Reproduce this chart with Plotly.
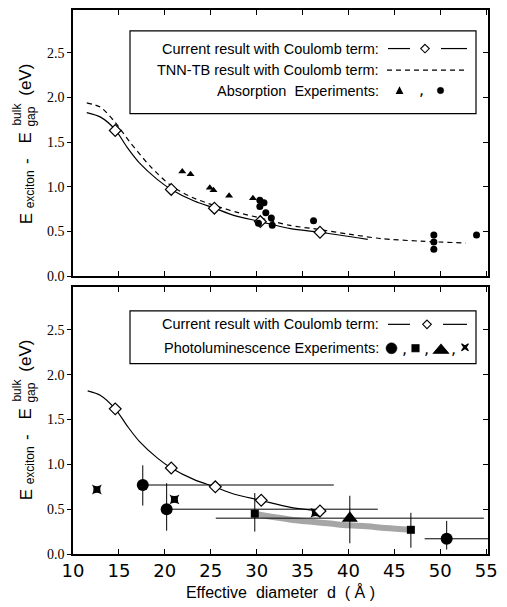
import plotly.graph_objects as go

# ---------------- data ----------------
# top panel (absorption)
top_curve_d = [11.5, 13.0, 14.6, 15.9, 17.2, 19.2, 20.7, 23.2, 25.4, 27.5, 30.4, 33.7, 36.9, 42.1]
top_curve_e = [1.83, 1.78, 1.64, 1.44, 1.27, 1.08, 0.97, 0.84, 0.76, 0.68, 0.61, 0.53, 0.49, 0.41]
tnn_curve_d = [11.5, 13.0, 14.6, 16.2, 18.5, 20.7, 23.0, 25.4, 28.0, 30.4, 33.5, 36.9, 40.0, 43.5, 47.9, 52.8]
tnn_curve_e = [1.94, 1.89, 1.72, 1.50, 1.22, 1.01, 0.88, 0.79, 0.71, 0.65, 0.57, 0.52, 0.47, 0.42, 0.39, 0.37]
top_diam_d = [14.6, 20.7, 25.4, 30.4, 36.9]
top_diam_e = [1.63, 0.97, 0.76, 0.61, 0.49]
abs_tri_d = [21.9, 22.8, 24.9, 25.3, 27.0, 29.6]
abs_tri_e = [1.17, 1.14, 0.99, 0.96, 0.90, 0.87]
abs_circ_d = [30.35, 30.8, 30.35, 31.0, 31.6, 31.7, 30.2, 36.2, 49.3, 49.3, 49.3, 53.95]
abs_circ_e = [0.85, 0.82, 0.78, 0.71, 0.65, 0.57, 0.59, 0.62, 0.46, 0.38, 0.30, 0.46]

# bottom panel (photoluminescence)
bot_curve_d = [11.6, 13.0, 14.6, 15.9, 17.2, 19.2, 20.7, 23.2, 25.4, 27.5, 30.4, 33.7, 36.9]
bot_curve_e = [1.82, 1.77, 1.62, 1.43, 1.26, 1.07, 0.96, 0.83, 0.75, 0.67, 0.60, 0.52, 0.48]
bot_diam_d = [14.6, 20.7, 25.5, 30.5, 36.9]
bot_diam_e = [1.62, 0.96, 0.75, 0.60, 0.48]
band_d = [29.8, 32.0, 34.0, 36.0, 38.0, 40.0, 42.0, 44.0, 46.8]
band_e = [0.45, 0.41, 0.38, 0.36, 0.34, 0.32, 0.31, 0.29, 0.27]
pl_circ_d = [17.6, 20.2, 50.7]
pl_circ_e = [0.77, 0.50, 0.17]
pl_circ_ey_plus = [0.22, 0.29, 0.20]
pl_circ_ey_minus = [0.23, 0.24, 0.12]
pl_circ_ex_plus = [20.8, 23.0, 4.5]
pl_circ_ex_minus = [0.0, 0.0, 2.4]
pl_sq_d = [29.8, 46.8]
pl_sq_e = [0.45, 0.27]
pl_sq_ey_plus = [0.23, 0.19]
pl_sq_ey_minus = [0.20, 0.20]
pl_tri_d = [40.15]
pl_tri_e = [0.40]
pl_tri_ex = [14.6]
pl_tri_ey_plus = [0.25]
pl_tri_ey_minus = [0.28]
pl_star_d = [12.6, 21.05, 36.4]
pl_star_e = [0.72, 0.61, 0.46]

x_ticks = [10, 15, 20, 25, 30, 35, 40, 45, 50, 55]
x_ticktext = ["10", "15", "20", "25", "30", "35", "40", "45", "50", "55"]
y_ticks = [0.0, 0.5, 1.0, 1.5, 2.0, 2.5]
y_ticktext = ["0.0", "0.5", "1.0", "1.5", "2.0", "2.5"]

# ---------------- layout geometry (pixels) ----------------
W, H = 507, 607
L, R, T, B = 73, 19, 8, 53
PW = W - L - R
PH = H - T - B


def fx(px):
    return (px - L) / PW


def fy(py):
    return (H - B - py) / PH


XR = [10, 55.2]
YR = [0, 2.98]
SANS = "Liberation Sans, Arial, sans-serif"
SERIF = "Liberation Serif, Times New Roman, serif"
BLK = "black"

fig = go.Figure()

# ---------- top panel ----------
fig.add_trace(go.Scatter(x=tnn_curve_d, y=tnn_curve_e, mode="lines", xaxis="x2", yaxis="y2",
                         line=dict(color=BLK, width=1.2, dash="5px,4px", shape="spline", smoothing=0.8)))
fig.add_trace(go.Scatter(x=top_curve_d, y=top_curve_e, mode="lines", xaxis="x2", yaxis="y2",
                         line=dict(color=BLK, width=1.2, shape="spline", smoothing=0.8)))
fig.add_trace(go.Scatter(x=top_diam_d, y=top_diam_e, mode="markers", xaxis="x2", yaxis="y2",
                         marker=dict(symbol="diamond", size=9, color="white", line=dict(color=BLK, width=1.2))))
fig.add_trace(go.Scatter(x=abs_tri_d, y=abs_tri_e, mode="markers", xaxis="x2", yaxis="y2",
                         marker=dict(symbol="triangle-up", size=7, color=BLK)))
fig.add_trace(go.Scatter(x=abs_circ_d, y=abs_circ_e, mode="markers", xaxis="x2", yaxis="y2",
                         marker=dict(symbol="circle", size=7, color=BLK)))

# ---------- bottom panel ----------
fig.add_trace(go.Scatter(x=band_d, y=band_e, mode="lines", xaxis="x", yaxis="y",
                         line=dict(color="#a6a6a6", width=6, shape="spline")))
fig.add_trace(go.Scatter(x=bot_curve_d, y=bot_curve_e, mode="lines", xaxis="x", yaxis="y",
                         line=dict(color=BLK, width=1.2, shape="spline", smoothing=0.8)))
ebar = dict(type="data", symmetric=False, color=BLK, thickness=1, width=0)
fig.add_trace(go.Scatter(x=pl_circ_d, y=pl_circ_e, mode="markers", xaxis="x", yaxis="y",
                         marker=dict(symbol="circle", size=12, color=BLK),
                         error_y=dict(ebar, array=pl_circ_ey_plus, arrayminus=pl_circ_ey_minus),
                         error_x=dict(ebar, array=pl_circ_ex_plus, arrayminus=pl_circ_ex_minus)))
fig.add_trace(go.Scatter(x=pl_sq_d, y=pl_sq_e, mode="markers", xaxis="x", yaxis="y",
                         marker=dict(symbol="square", size=8, color=BLK),
                         error_y=dict(ebar, array=pl_sq_ey_plus, arrayminus=pl_sq_ey_minus)))
fig.add_trace(go.Scatter(x=pl_tri_d, y=pl_tri_e, mode="markers", xaxis="x", yaxis="y",
                         marker=dict(symbol="triangle-up", size=14, color=BLK),
                         error_y=dict(ebar, array=pl_tri_ey_plus, arrayminus=pl_tri_ey_minus),
                         error_x=dict(ebar, array=pl_tri_ex, arrayminus=pl_tri_ex)))
fig.add_trace(go.Scatter(x=pl_star_d, y=pl_star_e, mode="markers", xaxis="x", yaxis="y",
                         marker=dict(symbol="star-square", size=9, color=BLK)))
fig.add_trace(go.Scatter(x=bot_diam_d, y=bot_diam_e, mode="markers", xaxis="x", yaxis="y",
                         marker=dict(symbol="diamond", size=9, color="white", line=dict(color=BLK, width=1.2))))

# empty traces for the right-hand (inside) tick axes
fig.add_trace(go.Scatter(x=[None], y=[None], xaxis="x", yaxis="y3", hoverinfo="skip"))
fig.add_trace(go.Scatter(x=[None], y=[None], xaxis="x2", yaxis="y4", hoverinfo="skip"))

top_dom = [fy(275), 1.0]
bot_dom = [0.0, fy(286)]

xcommon = dict(range=XR, tickvals=x_ticks, ticktext=x_ticktext, ticks="inside", ticklen=5,
               tickwidth=1, tickcolor=BLK, showline=True, linecolor=BLK, linewidth=1.5,
               mirror="ticks", showgrid=False, zeroline=False)
ycommon = dict(range=YR, tickvals=y_ticks, ticktext=y_ticktext, ticks="outside", ticklen=4,
               tickwidth=1, tickcolor=BLK, showline=True, linecolor=BLK, linewidth=1.5,
               mirror=True, showgrid=False, zeroline=False,
               tickfont=dict(family=SERIF, size=14, color=BLK))
yright = dict(range=YR, tickvals=y_ticks, ticks="inside", ticklen=5, tickwidth=1, tickcolor=BLK,
              showticklabels=False, showline=False, showgrid=False, zeroline=False, side="right")

fig.update_layout(
    width=W, height=H,
    margin=dict(l=L, r=R, t=T, b=B, pad=0),
    paper_bgcolor="white", plot_bgcolor="white",
    showlegend=False,
    xaxis=dict(xcommon, anchor="y",
               tickfont=dict(family="DejaVu Sans, sans-serif", size=18, color=BLK),
               title=dict(text="Effective\u00a0\u00a0diameter\u00a0\u00a0d\u00a0\u00a0(\u00a0Å\u00a0)",
                          font=dict(family=SANS, size=16, color=BLK), standoff=6)),
    xaxis2=dict(xcommon, anchor="y2", matches="x", showticklabels=False),
    yaxis=dict(ycommon, domain=bot_dom, anchor="x"),
    yaxis2=dict(ycommon, domain=top_dom, anchor="x2"),
    yaxis3=dict(yright, overlaying="y", anchor="x"),
    yaxis4=dict(yright, overlaying="y2", anchor="x2"),
)

shapes = []
annotations = []


def line_px(x0, y0, x1, y1, dash="solid", width=1.2):
    shapes.append(dict(type="line", xref="paper", yref="paper", x0=fx(x0), y0=fy(y0), x1=fx(x1), y1=fy(y1),
                       line=dict(color=BLK, width=width, dash=dash)))


def rect_px(x0, y0, x1, y1, fill="white", lw=1.2):
    shapes.append(dict(type="rect", xref="paper", yref="paper", x0=fx(x0), y0=fy(y0), x1=fx(x1), y1=fy(y1),
                       line=dict(color=BLK, width=lw), fillcolor=fill, layer="above"))


def path_px(pts, fill):
    p = "M " + " L ".join(f"{fx(a):.5f},{fy(b):.5f}" for a, b in pts) + " Z"
    shapes.append(dict(type="path", xref="paper", yref="paper", path=p,
                       line=dict(color=BLK, width=1.1), fillcolor=fill, layer="above"))


def circle_px(cx, cy, r):
    shapes.append(dict(type="circle", xref="paper", yref="paper", x0=fx(cx - r), x1=fx(cx + r),
                       y0=fy(cy + r), y1=fy(cy - r), line=dict(color=BLK, width=0.5), fillcolor=BLK,
                       layer="above"))


def text_px(x, y, s, size=14.5, xanchor="right", family=SANS, angle=0):
    annotations.append(dict(x=fx(x), y=fy(y), xref="paper", yref="paper", text=s, showarrow=False,
                            xanchor=xanchor, yanchor="middle", textangle=angle,
                            font=dict(family=family, size=size, color=BLK)))


def diamond_px(cx, cy, r):
    path_px([(cx, cy - r), (cx + r, cy), (cx, cy + r), (cx - r, cy)], "white")


def tri_px(cx, cy, w, h):
    path_px([(cx - w / 2, cy + h / 2), (cx + w / 2, cy + h / 2), (cx, cy - h / 2)], BLK)


def star_px(cx, cy, r):
    k = 0.35 * r
    path_px([(cx - r, cy - r), (cx, cy - k), (cx + r, cy - r), (cx + k, cy), (cx + r, cy + r),
             (cx, cy + k), (cx - r, cy + r), (cx - k, cy)], BLK)


def comma_px(cx, cy):
    text_px(cx, cy, ",", size=16, xanchor="center", family="DejaVu Sans, sans-serif")


# ---------- top legend ----------
rect_px(130, 29, 476, 112)
r1, r2, r3 = 46.7, 68.3, 88.8
text_px(381, r1, "Current result with Coulomb term:")
text_px(381, r2, "TNN-TB result with Coulomb term:")
text_px(381, r3, "Absorption\u00a0\u00a0Experiments:")
line_px(388, r1, 410, r1)
line_px(441, r1, 467, r1)
diamond_px(425, r1, 4.3)
line_px(387, r2, 467, r2, dash="5px,4px")
tri_px(399.5, r3, 6, 6)
comma_px(421.5, r3 - 1)
circle_px(440.5, r3, 3.2)

# ---------- bottom legend ----------
rect_px(130, 310, 476, 363)
b1, b2 = 323.5, 347.5
text_px(381, b1, "Current result with Coulomb term:")
text_px(381, b2, "Photoluminescence Experiments:")
line_px(388, b1, 410, b1)
line_px(443, b1, 467, b1)
diamond_px(427, b1, 4.3)
circle_px(391.5, b2, 5.5)
comma_px(404, b2)
path_px([(412, b2 - 3.5), (419, b2 - 3.5), (419, b2 + 3.5), (412, b2 + 3.5)], BLK)
comma_px(426.5, b2)
tri_px(441, b2 + 0.5, 15, 9)
comma_px(453, b2)
star_px(465, b2 - 1, 3.5)

# ---------- y axis titles (rotated, pieced) ----------
for off in (0, 277):
    text_px(26, 218 + off, "E", size=17, xanchor="center", angle=-90)
    text_px(30, 188 + off, "exciton", size=12, xanchor="center", angle=-90)
    text_px(26.5, 160 + off, "-", size=17, xanchor="center", angle=-90)
    text_px(26, 137 + off, "E", size=17, xanchor="center", angle=-90)
    text_px(31, 115 + off, "gap", size=12, xanchor="center", angle=-90)
    text_px(17, 113 + off, "bulk", size=12, xanchor="center", angle=-90)
    text_px(26, 78 + off, "(eV)", size=17, xanchor="center", angle=-90)

fig.update_layout(shapes=shapes, annotations=annotations)

fig.write_html("out.html")
